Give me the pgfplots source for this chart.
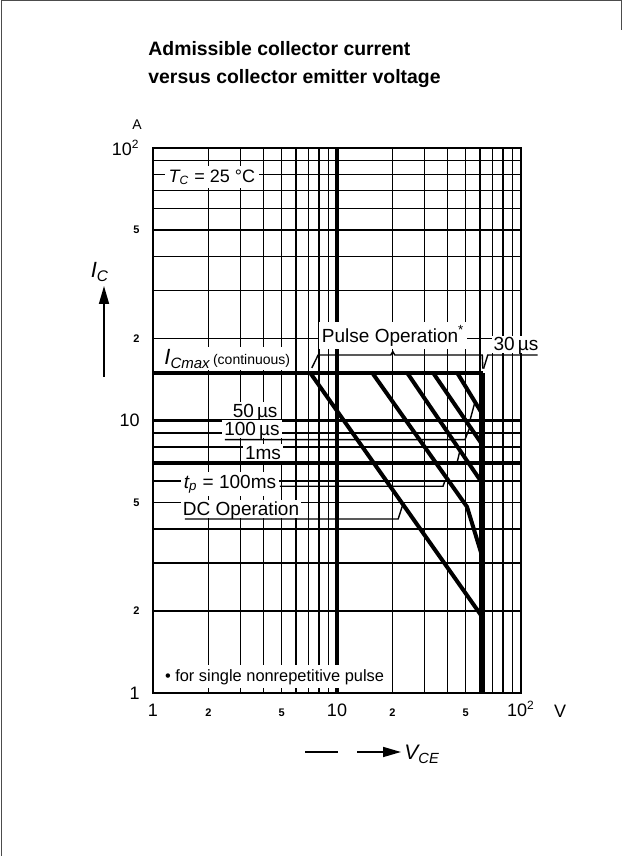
\documentclass[border=0pt]{standalone}
\usepackage{fontspec}
\setmainfont{Liberation Sans}
\usepackage{pgfplots}
\pgfplotsset{compat=1.18}
\usetikzlibrary{arrows.meta}
\newcommand{\fs}[1]{\fontsize{#1}{#1}\selectfont}
\newcommand{\sm}[1]{{\fs{5.5}\bfseries #1}}
\newcommand{\bg}[1]{{\fs{9}#1}}

\begin{document}
\begin{tikzpicture}
\path[use as bounding box] (0,0) rectangle (311pt,428pt);
\begin{axis}[
  at={(76.5pt,81.5pt)}, anchor=south west,
  width=184pt, height=272.5pt, scale only axis,
  xmode=log, ymode=log,
  xmin=1, xmax=100, ymin=1, ymax=100,
  clip=false,
  axis line style={line width=1.3pt},
  xtick={1,2,5,10,20,50,100},
  xticklabels={\bg{1},\sm{2},\sm{5},\bg{10},\sm{2},\sm{5},\bg{10\textsuperscript{2}}},
  ytick={1,2,5,10,20,50,100},
  yticklabels={\bg{1},\sm{2},\sm{5},\bg{10},\sm{2},\sm{5},\bg{10\textsuperscript{2}}},
  minor xtick={3,4,6,7,8,9,30,40,60,70,80,90},
  minor ytick={3,4,6,7,8,9,30,40,60,70,80,90},
  grid=both,
  major grid style={line width=0.7pt,black},
  minor grid style={line width=0.7pt,black},
  major tick length=0pt, minor tick length=0pt,
  tick label style={inner sep=0pt},
  xticklabel style={anchor=base, yshift=-12pt},
  yticklabel style={anchor=east, xshift=-6.5pt},
  every axis plot/.append style={mark=none, black},
]
% emphasised grid lines
\draw[line width=1.8pt] (axis cs:10,1) -- (axis cs:10,100);
\draw[line width=1.8pt] (axis cs:1,10) -- (axis cs:100,10);
\draw[line width=1.8pt] (axis cs:1,7) -- (axis cs:100,7);

% safe operating area
\addplot[line width=2pt] coordinates {(1,15) (62,15)};
\addplot[line width=2pt] coordinates {(62,1) (62,15)};
\addplot[line width=2pt] coordinates {(44.9,15) (62,10.5)};
\addplot[line width=2pt] coordinates {(33.2,15) (62,8.1)};
\addplot[line width=2pt] coordinates {(24.0,15) (62,5.85)};
\addplot[line width=2pt] coordinates {(15.5,15) (50.9,4.82) (62,3.12)};
\addplot[line width=2pt] coordinates {(7.13,15) (62,1.89)};

% leader lines
\addplot[line width=0.7pt] coordinates {(7.3,15.6) (7.9,17.4) (19.6,17.4) (20.1,17.9) (20.6,17.4) (61.6,17.4) (62,15.5)};
\addplot[line width=0.7pt] coordinates {(62.6,15.5) (66,17.4) (123,17.4)};
\addplot[line width=0.7pt] coordinates {(52.8,10) (56.2,11.7)};
\addplot[line width=0.7pt] coordinates {(2.46,8.51) (49.6,8.51) (52.8,9.47)};
\addplot[line width=0.7pt] coordinates {(44.9,7) (46.6,7.76)};
\addplot[line width=0.7pt] coordinates {(4.9,5.74) (37.7,5.74) (38.6,6.0)};
\addplot[line width=0.7pt] coordinates {(1.49,4.35) (21.5,4.35) (22.8,4.92)};

% labels
\node[fill=white, inner sep=2pt] at (axis cs:2.09,78.3)
  {\fs{9}{\itshape T\textsubscript{C}} = 25 °C};
\node[fill=white, inner sep=1pt, anchor=base west] at (axis cs:1.12,16.1)
  {{\fs{11}\itshape I}{\fs{7.5}\itshape\raisebox{-2pt}{Cmax}}\,{\fs{7}(continuous)}};
\node[fill=white, inner sep=1.5pt, anchor=base] at (axis cs:20.2,19.4)
  {\fs{9.5}Pulse Operation\textsuperscript{*}};
\node[fill=white, inner sep=1pt, anchor=base, text depth=0pt] at (axis cs:94,18.0)
  {\fs{9.5}30\,µs};
\node[fill=white, inner sep=1pt, anchor=base, text depth=0pt] at (axis cs:3.59,10.3)
  {\fs{9.5}50\,µs};
\node[fill=white, inner sep=1pt, anchor=base, text depth=0pt] at (axis cs:3.45,8.8)
  {\fs{9.5}100\,µs};
\node[fill=white, inner sep=1pt, anchor=base, text depth=0pt] at (axis cs:3.96,7.2)
  {\fs{9.5}1ms};
\node[fill=white, inner sep=1.5pt, anchor=base] at (axis cs:2.62,5.65)
  {\fs{9.5}{\itshape t\textsubscript{p}} = 100ms};
\node[fill=white, inner sep=1pt, anchor=base, text depth=0pt] at (axis cs:3.01,4.47)
  {\fs{9.5}DC Operation};
\node[fill=white, inner sep=2pt, anchor=base west] at (axis cs:1.1,1.106)
  {\fs{8.2}• for single nonrepetitive pulse};
\end{axis}

\begin{scope}[shift={(0pt,428pt)}, x=0.5pt, y=-0.5pt]
  % page frame
  \draw[line width=0.5pt, black!70] (1,856) -- (1,1) -- (621,1) -- (621,30);
  % title
  \node[anchor=base west, inner sep=0pt] at (148,56)
    {\fs{9.7}\bfseries Admissible collector current};
  \node[anchor=base west, inner sep=0pt] at (148,84)
    {\fs{9.7}\bfseries versus collector emitter voltage};
  % units
  \node[inner sep=0pt] at (137,125) {\fs{7}A};
  \node[anchor=base, inner sep=0pt] at (560,718) {\fs{9}V};
  % I_C axis label and arrow
  \node[inner sep=0pt] at (100,272) {\fs{11}\itshape I\textsubscript{C}};
  \draw[line width=0.8pt, -{Triangle[length=9pt,width=5pt]}] (104,377) -- (104,286);
  % V_CE axis label and arrow
  \draw[line width=0.8pt] (305,752) -- (338,752);
  \draw[line width=0.8pt, -{Triangle[length=9pt,width=5pt]}] (357,752) -- (401,752);
  \node[anchor=base west, inner sep=0pt] at (404,760)
    {\fs{10.5}\itshape V\textsubscript{CE}};
\end{scope}
\end{tikzpicture}
\end{document}
